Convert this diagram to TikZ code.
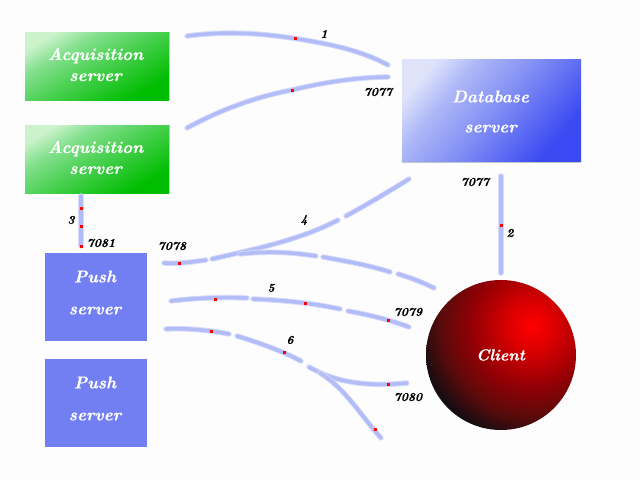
\documentclass[tikz,border=0pt]{standalone}
\usepackage{fontspec}
\usetikzlibrary{calc}
\newfontfamily\heavyface[FakeBold=0.6]{Latin Modern Roman}
\definecolor{pagebg}{RGB}{253,253,253}
\definecolor{wireouter}{RGB}{214,219,251}
\definecolor{wireinner}{RGB}{178,188,246}
\definecolor{pushblue}{RGB}{114,127,243}
\definecolor{edgegrey}{RGB}{190,198,205}
\pgfdeclareverticalshading{greenbox}{100bp}{%
  rgb(0bp)=(0,0.74,0);rgb(26bp)=(0,0.74,0);
  rgb(50bp)=(0.30,0.82,0.33);
  rgb(65bp)=(0.52,0.88,0.56);
  rgb(76bp)=(0.80,0.95,0.80);rgb(100bp)=(0.80,0.95,0.80)}
\pgfdeclareverticalshading{bluebox}{100bp}{%
  rgb(0bp)=(0.23,0.29,0.95);rgb(26bp)=(0.23,0.29,0.95);
  rgb(50bp)=(0.52,0.57,0.96);
  rgb(65bp)=(0.68,0.72,0.97);
  rgb(76bp)=(0.87,0.89,0.98);rgb(100bp)=(0.87,0.89,0.98)}
\pgfdeclareradialshading{clientball}{\pgfpointorigin}{%
  rgb(0bp)=(1,0,0);rgb(5bp)=(0.86,0,0);
  rgb(12.5bp)=(0.58,0,0.02);rgb(18.75bp)=(0.36,0.04,0.04);
  rgb(24bp)=(0.08,0.05,0.07);rgb(50bp)=(0.08,0.05,0.07)}
\tikzset{
  x=1pt,y=-1pt,
  boxtext/.style={text=white,font=\heavyface\bfseries\itshape\fontsize{17}{21}\selectfont,align=center,inner sep=0pt},
  acqbox/.style={rectangle,minimum width=144pt,minimum height=68pt,inner sep=0pt,shade,shading=greenbox,shading angle=30},
  dbbox/.style={rectangle,minimum width=179pt,minimum height=103pt,inner sep=0pt,shade,shading=bluebox,shading angle=50},
  pushbox/.style={rectangle,minimum width=102pt,minimum height=88pt,inner sep=0pt,fill=pushblue},
  portlabel/.style={text=black,font=\heavyface\bfseries\itshape\fontsize{12}{12}\selectfont,inner sep=0pt},
  wire/.style={line cap=round,line join=round},
  probe/.style={fill=red,draw=none,minimum size=3pt,inner sep=0pt,rectangle},
  boxedge/.style={edgegrey,line width=1pt},
}
\newcommand{\wirepath}[1]{%
  \draw[wire,wireouter,line width=5.4pt] #1;
  \draw[wire,wireinner,line width=3.6pt] #1;}
\begin{document}
\begin{tikzpicture}
\useasboundingbox[fill=pagebg] (0,0) rectangle (640,480);
% boxes
\node[acqbox] (acqA) at (97,66) {};
\node[acqbox] (acqB) at (97,159) {};
\node[dbbox] (db) at (491.5,110.5) {};
\node[pushbox] (pushA) at (96,297) {};
\node[pushbox] (pushB) at (96,403) {};
\draw[boxedge] (acqA.north east) -- (acqA.south east);
\draw[boxedge] (acqB.north east) -- (acqB.south east);
\draw[boxedge] (db.south west) -- (db.south east);
\node[boxtext] (acqAt) at (95.5,64.5) {Acquisition\\server};
\node[boxtext] (acqBt) at (95.5,157.5) {Acquisition\\server};
\node[boxtext,font=\heavyface\bfseries\itshape\fontsize{17}{30}\selectfont] (dbt) at (490.5,111.5) {Database\\server};
\node[boxtext,font=\heavyface\bfseries\itshape\fontsize{17}{32}\selectfont] (pushAt) at (95,292.5) {Push\\server};
\node[boxtext,font=\heavyface\bfseries\itshape\fontsize{17}{32}\selectfont] (pushBt) at (95,398.5) {Push\\server};
% client
\node[circle,minimum size=150pt,inner sep=0pt,
  path picture={\shade[shading=clientball] ($(path picture bounding box.center)+(31,-29)$) circle (120);}] (client) at (501,355) {};
\node[text=white,font=\heavyface\bfseries\itshape\fontsize{16}{16}\selectfont,inner sep=0pt] (clientt) at (500.5,355) {Client};
% wires
\wirepath{(187,36) .. controls (225,31) and (260,33) .. (295,38.5) .. controls (330,44) and (360,50) .. (388,65)}
\wirepath{(187,128) .. controls (220,110) and (255,97) .. (292,90) .. controls (325,82) and (360,77) .. (388,77)}
\wirepath{(81,196) -- (81,246)}
\wirepath{(501,176) -- (501,273)}
\wirepath{(409,179) .. controls (388,192) and (368,204) .. (346,216)}
\wirepath{(338,220) .. controls (300,240) and (255,249) .. (212,259)}
\wirepath{(164,263) .. controls (178,264) and (192,262) .. (206,260)}
\wirepath{(240,254) .. controls (265,251) and (290,252) .. (316,256)}
\wirepath{(323,257) .. controls (345,261) and (368,265) .. (390,272)}
\wirepath{(398,274) .. controls (412,278) and (424,283) .. (434,288)}
\wirepath{(171,301) .. controls (195,298) and (220,297) .. (247,298)}
\wirepath{(253,299) .. controls (282,300) and (312,303) .. (340,309)}
\wirepath{(348,311) .. controls (370,315) and (390,320) .. (409,327)}
\wirepath{(166,329) .. controls (187,328) and (208,330) .. (229,334)}
\wirepath{(237,336) .. controls (260,343) and (282,351) .. (301,361)}
\wirepath{(309,367) .. controls (335,382) and (365,387) .. (407,383)}
\wirepath{(320,373) .. controls (345,388) and (362,417) .. (381,438)}
% probes
\foreach \px/\py [count=\i] in {295/38.7,292/90,81/208,81/226,81/246,501/225,179/263.5,215/299,305/303,388/320,211/331,284/352,388/384,375/429}
  \node[probe] (probe\i) at (\px,\py) {};
% labels
\node[portlabel] (l1) at (324,34) {1};
\node[portlabel] (p7077a) at (378,92) {7077};
\node[portlabel] (p7077b) at (475,182) {7077};
\node[portlabel] (l2) at (510,233) {2};
\node[portlabel] (l3) at (71,220) {3};
\node[portlabel] (p7081) at (101,243) {7081};
\node[portlabel] (l4) at (304,220) {4};
\node[portlabel] (p7078) at (172,246) {7078};
\node[portlabel] (l5) at (271,288) {5};
\node[portlabel] (p7079) at (408,312) {7079};
\node[portlabel] (l6) at (290,340) {6};
\node[portlabel] (p7080) at (408,397) {7080};
\end{tikzpicture}
\end{document}
